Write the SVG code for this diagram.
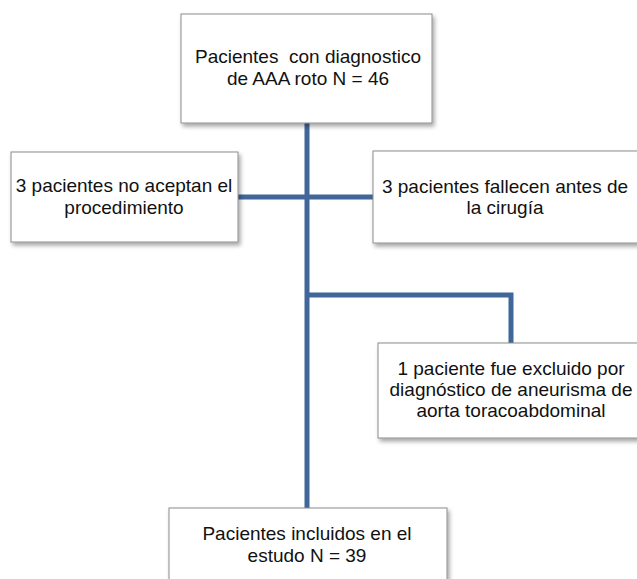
<svg xmlns="http://www.w3.org/2000/svg" width="637" height="579" viewBox="0 0 637 579">
<style>
.box{fill:#fff;stroke:#8c8c8c;stroke-width:1;filter:url(#sh)}
.t{font-family:"Liberation Sans",Arial,sans-serif;font-size:19px;fill:#111;text-anchor:middle;white-space:pre}
.ln{fill:none;stroke:#41679a;stroke-width:5;stroke-linejoin:miter}
</style>
<defs>
<filter id="sh" x="-10%" y="-10%" width="125%" height="130%">
<feDropShadow dx="2" dy="3" stdDeviation="2" flood-color="#000" flood-opacity="0.35"/>
</filter>
</defs>
<g id="connectors">
<path class="ln" d="M307,123 V508"/>
<path class="ln" d="M238,197 H373"/>
<path class="ln" d="M307,295 H511 V343"/>
</g>
<g id="n_top">
<rect class="box" x="181" y="14" width="251" height="109"/>
<text class="t" x="308" y="63" xml:space="preserve">Pacientes  con diagnostico</text>
<text class="t" x="308" y="85">de AAA roto N = 46</text>
</g>
<g id="n_left">
<rect class="box" x="11" y="152" width="227" height="90"/>
<text class="t" x="124" y="192">3 pacientes no aceptan el</text>
<text class="t" x="124" y="214">procedimiento</text>
</g>
<g id="n_right">
<rect class="box" x="373" y="151" width="270" height="92"/>
<text class="t" x="505" y="193">3 pacientes fallecen antes de</text>
<text class="t" x="505" y="214">la cirugía</text>
</g>
<g id="n_excl">
<rect class="box" x="378" y="343" width="265" height="95"/>
<text class="t" x="511" y="375">1 paciente fue excluido por</text>
<text class="t" x="511" y="396">diagnóstico de aneurisma de</text>
<text class="t" x="511" y="417">aorta toracoabdominal</text>
</g>
<g id="n_bottom">
<rect class="box" x="169" y="508" width="278" height="80"/>
<text class="t" x="307" y="540">Pacientes incluidos en el</text>
<text class="t" x="307" y="562">estudo N = 39</text>
</g>
</svg>
